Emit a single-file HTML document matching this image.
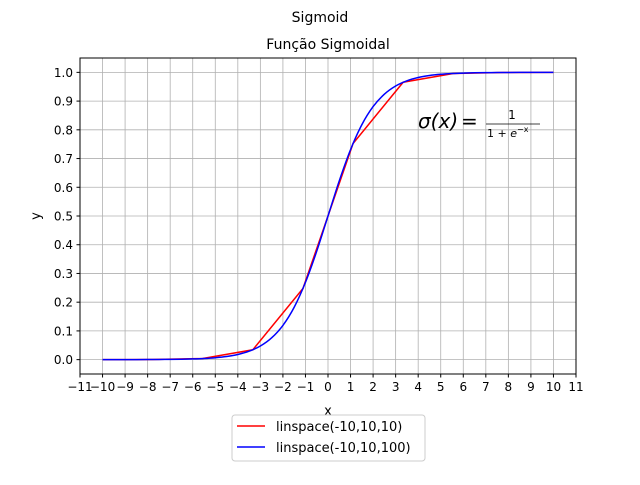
<!DOCTYPE html>
<html><head><meta charset="utf-8"><style>
body{margin:0;background:#fff;}
svg text{font-family:"DejaVu Sans","Liberation Sans",sans-serif;fill:#000;}
</style></head><body>
<svg id="chart" width="640" height="480" xmlns="http://www.w3.org/2000/svg">
<rect width="640" height="480" fill="#fff"/>
<text x="320" y="22" font-size="14" text-anchor="middle">Sigmoid</text>
<text x="328" y="49" font-size="14" text-anchor="middle">Função Sigmoidal</text>
<g id="grid"></g>
<g id="series"></g>
<rect x="80" y="58" width="496" height="316" fill="none" stroke="#000" stroke-width="1"/>
<g id="ticks"></g>
<text x="328" y="415" font-size="13" text-anchor="middle">x</text>
<text x="40" y="216" font-size="13" text-anchor="middle" transform="rotate(-90 40 216)">y</text>
<g>
<text x="418" y="128" font-size="20" font-style="italic">σ(x)</text>
<text x="461" y="128" font-size="20">=</text>
<text x="512" y="119" font-size="12" text-anchor="middle">1</text>
<line x1="486" y1="124" x2="540" y2="124" stroke="#000" stroke-width="0.8"/>
<text x="487" y="137" font-size="11">1 + <tspan font-style="italic">e</tspan><tspan font-size="8" dy="-5">−x</tspan></text>
</g>
<g>
<rect x="232" y="415" width="193" height="46" rx="3" fill="#fff" stroke="#ccc"/>
<line x1="237" y1="426" x2="265" y2="426" stroke="red" stroke-width="1.5"/>
<text x="276" y="431" font-size="13">linspace(-10,10,10)</text>
<line x1="237" y1="447" x2="265" y2="447" stroke="blue" stroke-width="1.5"/>
<text x="276" y="452" font-size="13">linspace(-10,10,100)</text>
</g>
</svg>
<script>
const xTicks=[-11,-10,-9,-8,-7,-6,-5,-4,-3,-2,-1,0,1,2,3,4,5,6,7,8,9,10,11];
const yTicks=[0,0.1,0.2,0.3,0.4,0.5,0.6,0.7,0.8,0.9,1.0];
const redX=[-10,-7.778,-5.556,-3.333,-1.111,1.111,3.333,5.556,7.778,10];
const redY=[0.0000454,0.000419,0.00385,0.0344,0.2477,0.7523,0.9656,0.99615,0.99958,0.99995];
const blueX=[-10,-9.5,-9,-8.5,-8,-7.5,-7,-6.5,-6,-5.5,-5,-4.5,-4,-3.5,-3,-2.5,-2,-1.5,-1,-0.5,0,0.5,1,1.5,2,2.5,3,3.5,4,4.5,5,5.5,6,6.5,7,7.5,8,8.5,9,9.5,10];
const blueY=[0.0000454,0.0000748,0.000123,0.000203,0.000335,0.000553,0.000911,0.0015,0.00247,0.00407,0.00669,0.011,0.018,0.0293,0.0474,0.0759,0.1192,0.1824,0.2689,0.3775,0.5,0.6225,0.7311,0.8176,0.8808,0.9241,0.9526,0.9707,0.982,0.989,0.99331,0.99593,0.99753,0.9985,0.99909,0.99945,0.99966,0.9998,0.99988,0.99993,0.99995];
const NS='http://www.w3.org/2000/svg';
const X0=80,X1=576,Y0=374,Y1=58;
const xs=v=>X0+(v+11)/22*(X1-X0);
const ys=v=>Y0-(v+0.05)/1.1*(Y0-Y1);
const grid=document.getElementById('grid'),ticks=document.getElementById('ticks'),series=document.getElementById('series');
function mk(t,a,p){const e=document.createElementNS(NS,t);for(const k in a)e.setAttribute(k,a[k]);p.appendChild(e);return e;}
const fmt=v=>v<0?'−'+(-v):String(v);
xTicks.forEach(v=>{
 const x=xs(v);
 const g=mk('line',{x1:x,x2:x,y1:Y1,y2:Y0,stroke:'#b0b0b0','stroke-width':0.8},grid);
 
 
 mk('line',{x1:x,x2:x,y1:Y0,y2:Y0+3.5,stroke:'#000'},ticks);
 const t=mk('text',{x:x,y:Y0+17,'font-size':12,'text-anchor':'middle'},ticks);
 t.textContent=fmt(v);
 
 
});
yTicks.forEach(v=>{
 const y=ys(v);
 const g=mk('line',{x1:X0,x2:X1,y1:y,y2:y,stroke:'#b0b0b0','stroke-width':0.8},grid);
 
 
 mk('line',{x1:X0-3.5,x2:X0,y1:y,y2:y,stroke:'#000'},ticks);
 const t=mk('text',{x:X0-7,y:y+4.5,'font-size':12,'text-anchor':'end'},ticks);
 t.textContent=v.toFixed(1);
 
 
});
function line(xa,ya,c,name,smooth){
 const P=xa.map((v,i)=>[xs(v),ys(ya[i])]);
 let d='M'+P[0][0].toFixed(2)+','+P[0][1].toFixed(2);
 for(let i=0;i<P.length-1;i++){
  if(!smooth){d+=' L'+P[i+1][0].toFixed(2)+','+P[i+1][1].toFixed(2);continue;}
  const p0=P[Math.max(i-1,0)],p1=P[i],p2=P[i+1],p3=P[Math.min(i+2,P.length-1)];
  const c1=[p1[0]+(p2[0]-p0[0])/6,p1[1]+(p2[1]-p0[1])/6];
  const c2=[p2[0]-(p3[0]-p1[0])/6,p2[1]-(p3[1]-p1[1])/6];
  d+=' C'+c1.map(n=>n.toFixed(2)).join(',')+' '+c2.map(n=>n.toFixed(2)).join(',')+' '+p2[0].toFixed(2)+','+p2[1].toFixed(2);
 }
 const p=mk('path',{d:d,fill:'none',stroke:c,'stroke-width':1.5},series);
 
 
}
line(redX,redY,'red','series-linspace-10',false);
line(blueX,blueY,'blue','series-linspace-100',true);
</script>
</body></html>
